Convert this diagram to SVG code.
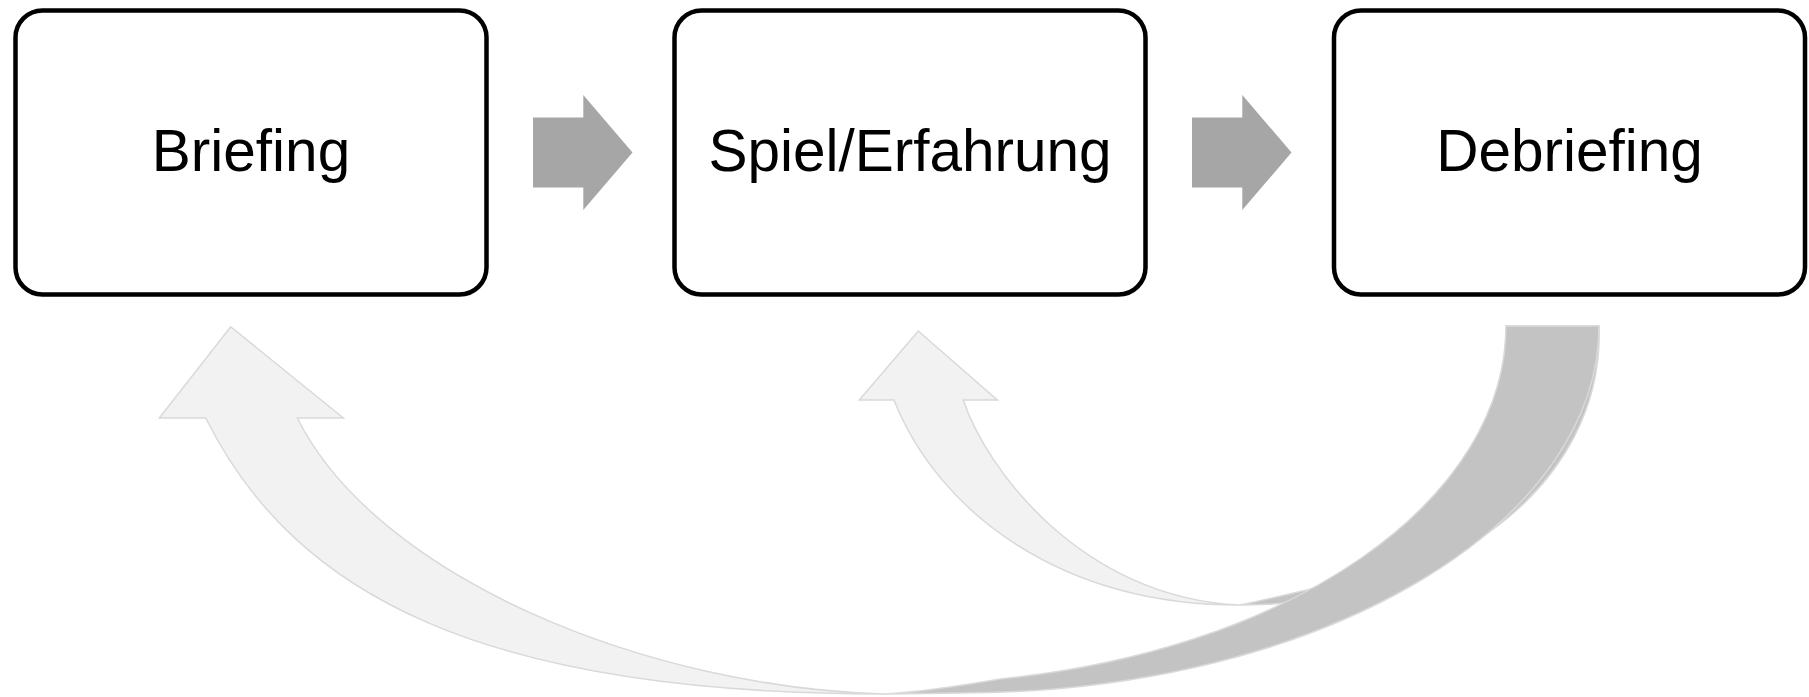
<svg xmlns="http://www.w3.org/2000/svg" width="1809" height="697" viewBox="0 0 1809 697">
<style>
.box{fill:#FFFFFF;stroke:#000000;stroke-width:4.5}
.lbl{font-family:"Liberation Sans",Arial,sans-serif;font-size:58.5px;fill:#000000;text-anchor:middle}
.step{fill:#A6A6A6;stroke:none}
.front{fill:#F2F2F2;stroke:#D9D9D9;stroke-width:1.5;stroke-linejoin:miter}
.back{fill:#C3C3C3;stroke:#D9D9D9;stroke-width:1.5}
</style>
<rect x="0" y="0" width="1809" height="697" fill="#FFFFFF"/>
<g id="connectors">
  <polygon id="arrow-briefing-spiel" class="step" points="533,117.5 583.3,117.5 583.3,95 632.5,152.5 583.3,210 583.3,187.5 533,187.5"/>
  <polygon id="arrow-spiel-debriefing" class="step" points="1192,117.5 1242.3,117.5 1242.3,95 1291.5,152.5 1242.3,210 1242.3,187.5 1192,187.5"/>
  <g id="loop-debriefing-spiel">
    <path class="back" d="M 1240 605 C 1445 605 1605 485 1599 326 L 1506 326 C 1506 470 1400 570 1307 590 C 1280 596 1260 601 1240 605 Z"/>
    <path class="front" d="M 894 400 L 859.3 400 L 918.3 331 L 997.3 400 L 963.3 400 C 985 466.5 1080 598 1240 605 C 1060 605 938.4 511.6 894 400 Z"/>
  </g>
  <g id="loop-debriefing-briefing">
    <path class="front" d="M 205.7 418 L 159.3 418 L 230.7 326.7 L 343.3 418 L 297.3 418 C 377.8 579 650 688 885 694 C 485 694 295 597 205.7 418 Z"/>
    <path class="back" d="M 885 694 L 960 693 A 639 367 0 0 0 1599 326 L 1506 326 A 606 358 0 0 1 1000 679 C 960 686 920 692 885 694 Z"/>
  </g>
</g>
<g id="node-briefing">
  <rect class="box" x="15.5" y="10.5" width="471" height="284" rx="27" ry="27"/>
  <text class="lbl" x="251" y="171">Briefing</text>
</g>
<g id="node-spiel">
  <rect class="box" x="674.5" y="10.5" width="471" height="284" rx="27" ry="27"/>
  <text class="lbl" x="910" y="171">Spiel/Erfahrung</text>
</g>
<g id="node-debriefing">
  <rect class="box" x="1334" y="10.5" width="471" height="284" rx="27" ry="27"/>
  <text class="lbl" x="1569.5" y="171">Debriefing</text>
</g>
</svg>
